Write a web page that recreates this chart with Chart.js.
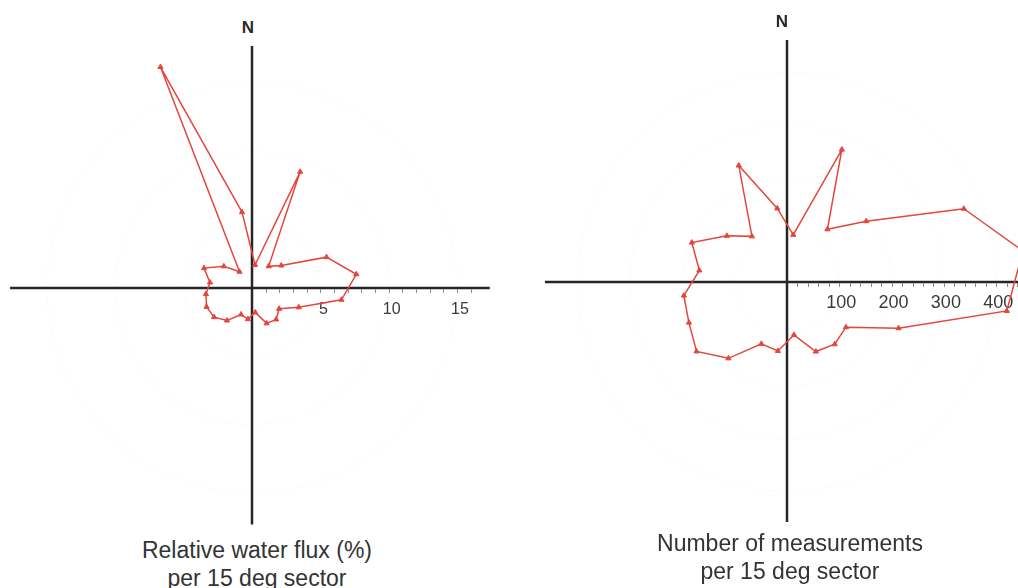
<!DOCTYPE html>
<html>
<head>
<meta charset="utf-8">
<title>Water flux rose</title>
<script src="https://cdn.jsdelivr.net/npm/chart.js@4/dist/chart.umd.min.js"></script>
<style>
  html, body { margin: 0; padding: 0; background: #fff; }
  #page { position: relative; width: 1018px; height: 588px; overflow: hidden; font-family: "Liberation Sans", Arial, sans-serif; color: #333; }
  .box { position: absolute; }
  .north { position: absolute; width: 40px; text-align: center; font-size: 17px; font-weight: bold; line-height: 20px; color: #2a2a2a; }
  .caption { position: absolute; width: 400px; text-align: center; font-size: 23px; line-height: 28px; color: #333; }
</style>
</head>
<body>
<div id="page">
  <div class="box" style="left:6px; top:42px; width:492px; height:492px;"><canvas id="flux-rose"></canvas></div>
  <div class="box" style="left:536px; top:31px; width:502px; height:502px;"><canvas id="count-rose"></canvas></div>
  <div class="north" style="left:228px; top:18px;">N</div>
  <div class="north" style="left:762px; top:12px;">N</div>
  <div class="caption" style="left:57px; top:536px;">Relative water flux (%)<br>per 15 deg sector</div>
  <div class="caption" style="left:590px; top:529px;">Number of measurements<br>per 15 deg sector</div>
</div>
<script>
// Rose diagrams: one point per 15 degree sector, bearing of the sector centre.
const sectorBearings = ['7.5', '22.5', '37.5', '52.5', '67.5', '82.5', '97.5', '112.5',
  '127.5', '142.5', '157.5', '172.5', '187.5', '202.5', '217.5', '232.5',
  '247.5', '262.5', '277.5', '292.5', '307.5', '322.5', '337.5', '352.5'];

// relative water flux (%) per sector
const fluxValues = [1.7, 9.2, 2.0, 2.7, 5.9, 7.7, 6.6, 3.7, 2.5, 2.9, 2.8, 1.8,
  2.3, 2.1, 3.0, 3.5, 3.6, 3.4, 3.1, 3.8, 2.6, 1.5, 17.5, 5.6];

// number of measurements per sector
const countValues = [91, 274, 127, 191, 366, 455, 424, 231, 142, 150, 144, 102,
  133, 128, 184, 218, 203, 199, 169, 197, 145, 110, 241, 142];

const fluxTicks = [5, 10, 15];
const countTicks = [100, 200, 300, 400];

const RED = '#e3463c';

// draws the N-S / E-W cross, the small ticks and the numbers on the east arm
const compassAxes = {
  id: 'compassAxes',
  beforeDatasetsDraw(chart, args, opts) {
    const r = chart.scales.r;
    const ctx = chart.ctx;
    const cx = r.xCenter;
    const cy = r.yCenter;
    const d = (v) => r.getDistanceFromCenterForValue(v);

    ctx.save();
    ctx.strokeStyle = '#262626';
    ctx.lineWidth = 2.5;
    ctx.beginPath();
    ctx.moveTo(cx - d(opts.west), cy);
    ctx.lineTo(cx + d(opts.east), cy);
    ctx.moveTo(cx, cy - d(opts.north));
    ctx.lineTo(cx, cy + d(opts.south));
    ctx.stroke();

    ctx.strokeStyle = '#8c8c8c';
    ctx.lineWidth = 1;
    ctx.beginPath();
    for (let v = opts.minorStep; v <= opts.minorMax; v += opts.minorStep) {
      const x = Math.round(cx + d(v)) + 0.5;
      ctx.moveTo(x, cy + 1);
      ctx.lineTo(x, cy + 5);
    }
    ctx.stroke();

    ctx.fillStyle = '#3a3a3a';
    ctx.font = opts.font;
    ctx.textAlign = 'center';
    ctx.textBaseline = 'middle';
    opts.ticks.forEach((v) => ctx.fillText(String(v), cx + d(v) + opts.labelShift, cy + opts.labelGap));
    ctx.restore();
  },
};

function buildRose(canvasId, values, max, step, axes) {
  return new Chart(document.getElementById(canvasId), {
    type: 'radar',
    data: {
      labels: sectorBearings,
      datasets: [{
        data: values,
        borderColor: RED,
        backgroundColor: RED,
        borderWidth: 1.5,
        fill: false,
        tension: 0,
        pointStyle: 'triangle',
        pointRadius: 3,
        pointBorderWidth: 1,
        pointBackgroundColor: RED,
        pointBorderColor: RED,
      }],
    },
    options: {
      responsive: true,
      maintainAspectRatio: false,
      animation: false,
      layout: { padding: 0 },
      plugins: {
        legend: { display: false },
        tooltip: { enabled: false },
        compassAxes: axes,
      },
      scales: {
        r: {
          min: 0,
          max: max,
          startAngle: 7.5,
          ticks: { display: false, stepSize: step },
          pointLabels: { display: false },
          angleLines: { display: false },
          grid: {
            circular: true,
            color: (c) => (c.tick && c.tick.value % step === 0 ? '#ececec' : 'rgba(0,0,0,0)'),
            lineWidth: 1,
          },
          border: { dash: [1, 4] },
        },
      },
    },
    plugins: [compassAxes],
  });
}

buildRose('flux-rose', fluxValues, 18, 5, {
  west: 17.7, east: 17.4, north: 17.7, south: 17.3,
  minorStep: 1, minorMax: 16.5,
  ticks: fluxTicks, font: '16px "Liberation Sans", Arial, sans-serif',
  labelGap: 22, labelShift: 3,
});

buildRose('count-rose', countValues, 480, 100, {
  west: 463, east: 480, north: 463, south: 459,
  minorStep: 20, minorMax: 440,
  ticks: countTicks, font: '18px "Liberation Sans", Arial, sans-serif',
  labelGap: 21, labelShift: 2,
});
</script>
</body>
</html>
